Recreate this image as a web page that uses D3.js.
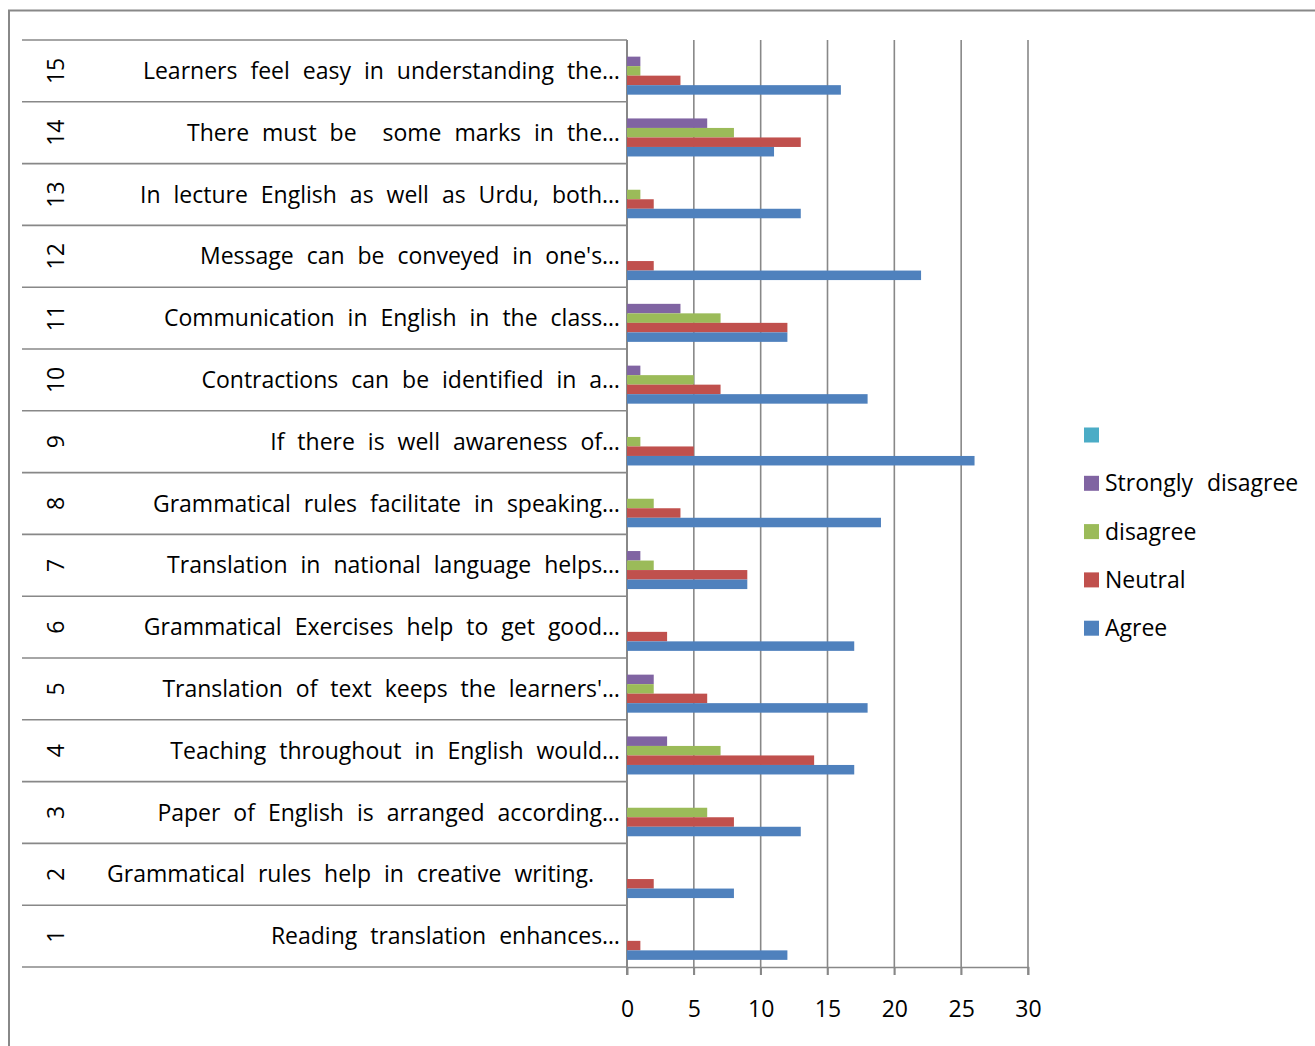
<!DOCTYPE html>
<html>
<head>
<meta charset="utf-8">
<script src="https://cdn.jsdelivr.net/npm/d3@7"></script>
<style>
  html, body { margin: 0; padding: 0; background: #fff; }
  svg { display: block; font-family: "Open Sans", Lato, sans-serif; }
  .qlabel { white-space: pre; }
</style>
</head>
<body>
<svg id="chart" width="1315" height="1046"></svg>
<script>
// Statement numbers (bottom to top) and their abbreviated texts
const itemNumbers = ["1","2","3","4","5","6","7","8","9","10","11","12","13","14","15"];
const statements = [
  "Reading translation enhances…",
  "Grammatical rules help in creative writing.  ",
  "Paper of English is arranged according…",
  "Teaching throughout in English would…",
  "Translation of text keeps the learners'…",
  "Grammatical Exercises help to get good…",
  "Translation in national language helps…",
  "Grammatical rules facilitate in speaking…",
  "If there is well awareness of…",
  "Contractions can be identified in a…",
  "Communication in English in the class…",
  "Message can be conveyed in one's…",
  "In lecture English as well as Urdu, both…",
  "There must be  some marks in the…",
  "Learners feel easy in understanding the…"
];

// Response counts per statement (statement 1 … 15)
const agree            = [12, 8, 13, 17, 18, 17, 9, 19, 26, 18, 12, 22, 13, 11, 16];
const neutral          = [ 1, 2,  8, 14,  6,  3, 9,  4,  5,  7, 12,  2,  2, 13,  4];
const disagree         = [ 0, 0,  6,  7,  2,  0, 2,  2,  1,  5,  7,  0,  1,  8,  1];
const stronglyDisagree = [ 0, 0,  0,  3,  2,  0, 1,  0,  0,  1,  4,  0,  0,  6,  1];
const unnamedSeries    = [ 0, 0,  0,  0,  0,  0, 0,  0,  0,  0,  0,  0,  0,  0,  0];

// Series from top of each group to bottom, matching legend order
const seriesNames  = ["", "Strongly  disagree", "disagree", "Neutral", "Agree"];
const seriesValues = [unnamedSeries, stronglyDisagree, disagree, neutral, agree];
const seriesColors = ["#4BACC6", "#8064A2", "#9BBB59", "#C0504D", "#4F81BD"];

const xTicks = [0, 5, 10, 15, 20, 25, 30];

const svg = d3.select("#chart");
const gridColor = "#888888";
const fontSize = "23px";

// Outer chart frame
svg.append("path")
  .attr("d", "M9,1046 V10.5 H1315")
  .attr("fill", "none").attr("stroke", gridColor).attr("stroke-width", 2);

const plot = { left: 627, right: 1028, top: 40, bottom: 967 };
const labelLeft = 22;

const x = d3.scaleLinear().domain([0, 30]).range([plot.left, plot.right]);
const y = d3.scaleBand()
  .domain(itemNumbers.slice().reverse())
  .range([plot.top, plot.bottom])
  .paddingInner(0).paddingOuter(0);
const ySeries = d3.scaleBand()
  .domain(d3.range(seriesNames.length))
  .range([0, y.bandwidth()])
  .paddingInner(0).paddingOuter(0.75);

// Vertical gridlines
svg.append("g").selectAll("line")
  .data(xTicks)
  .join("line")
  .attr("x1", d => x(d)).attr("x2", d => x(d))
  .attr("y1", plot.top).attr("y2", plot.bottom + 8)
  .attr("stroke", gridColor).attr("stroke-width", 1.6);

// Value axis
const xAxis = svg.append("g")
  .attr("transform", `translate(0,${plot.bottom})`)
  .call(d3.axisBottom(x).tickValues(xTicks).tickSize(8).tickPadding(26));
xAxis.select(".domain").attr("stroke", gridColor).attr("stroke-width", 1.6);
xAxis.selectAll(".tick line").attr("stroke", gridColor).attr("stroke-width", 1.6);
xAxis.selectAll(".tick text")
  .attr("fill", "#000").style("font-size", fontSize).style("font-family", "'Open Sans', sans-serif");

// Category rows: separators and two-level labels
const boundaries = itemNumbers.map(d => y(d)).concat([plot.bottom]);
svg.append("g").selectAll("line")
  .data(boundaries)
  .join("line")
  .attr("x1", labelLeft).attr("x2", plot.left)
  .attr("y1", d => d).attr("y2", d => d)
  .attr("stroke", gridColor).attr("stroke-width", 1.6);

svg.append("line")
  .attr("x1", plot.left).attr("x2", plot.left)
  .attr("y1", plot.top).attr("y2", plot.bottom + 8)
  .attr("stroke", gridColor).attr("stroke-width", 2);

const rows = svg.append("g").selectAll("g")
  .data(itemNumbers)
  .join("g")
  .attr("transform", d => `translate(0,${y(d) + y.bandwidth() / 2})`);

rows.append("text")
  .attr("transform", "translate(56,0) rotate(-90)")
  .attr("text-anchor", "middle")
  .attr("dy", "0.35em")
  .style("font-size", fontSize)
  .text(d => d);

rows.append("text")
  .attr("class", "qlabel")
  .attr("x", 620)
  .attr("text-anchor", "end")
  .attr("dy", "0.35em")
  .style("font-size", fontSize)
  .style("word-spacing", "7px")
  .text((d, i) => statements[i]);

// Bars
const barGroups = svg.append("g").selectAll("g")
  .data(itemNumbers)
  .join("g")
  .attr("transform", d => `translate(0,${y(d)})`);

barGroups.selectAll("rect")
  .data((d, i) => seriesValues.map((vals, s) => ({ s, v: vals[i] })))
  .join("rect")
  .attr("x", x(0))
  .attr("y", d => ySeries(d.s))
  .attr("width", d => x(d.v) - x(0))
  .attr("height", ySeries.bandwidth())
  .attr("fill", d => seriesColors[d.s]);

// Legend
const legend = svg.append("g").selectAll("g")
  .data(seriesNames)
  .join("g")
  .attr("transform", (d, i) => `translate(1084,${435 + i * 48.3})`);

legend.append("rect")
  .attr("x", 0).attr("y", -7.5)
  .attr("width", 15).attr("height", 15)
  .attr("fill", (d, i) => seriesColors[i]);

legend.append("text")
  .attr("class", "qlabel")
  .attr("x", 21)
  .attr("dy", "0.35em")
  .style("font-size", fontSize)
  .style("word-spacing", "1px")
  .text(d => d);
</script>
</body>
</html>
